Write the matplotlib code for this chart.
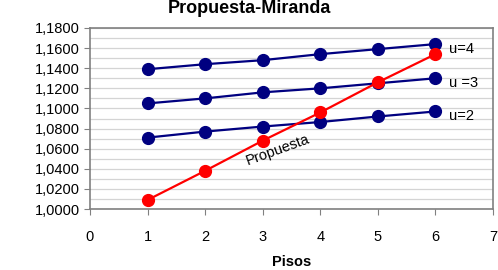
import matplotlib.pyplot as plt
from matplotlib.ticker import MultipleLocator, FuncFormatter

plt.rcParams['font.family'] = ['Liberation Sans', 'DejaVu Sans']

pisos = [1, 2, 3, 4, 5, 6]
u4 = [1.139, 1.144, 1.148, 1.154, 1.159, 1.164]
u3 = [1.105, 1.110, 1.116, 1.120, 1.125, 1.130]
u2 = [1.071, 1.077, 1.082, 1.0865, 1.092, 1.097]
propuesta = [1.009, 1.038, 1.068, 1.096, 1.126, 1.154]

series_labels = ['u=4', 'u =3', 'u=2']

fig = plt.figure(figsize=(4.98, 2.70), dpi=100)
ax = fig.add_axes([0.1807, 0.2259, 0.990 - 0.1807, 0.8963 - 0.2259])

navy = '#000080'
for vals in (u4, u3, u2):
    ax.plot(pisos, vals, color=navy, lw=1.6, marker='o', ms=8.5, zorder=3)
ax.plot(pisos, propuesta, color='#ff0000', lw=1.6, marker='o', ms=8.5, zorder=4)

# series labels at the right end
for lab, vals in zip(series_labels, (u4, u3, u2)):
    ax.text(6.24, vals[-1] - 0.005, lab, fontsize=10.5, va='center', ha='left')
ax.text(3.27, 1.0590, 'Propuesta', fontsize=10.5, rotation=20,
        ha='center', va='center')

ax.set_xlim(0, 7)
ax.set_ylim(1.0, 1.18)
ax.xaxis.set_major_locator(MultipleLocator(1))
ax.yaxis.set_major_locator(MultipleLocator(0.02))
ax.yaxis.set_minor_locator(MultipleLocator(0.01))
ax.yaxis.set_major_formatter(FuncFormatter(lambda v, p: f'{v:.4f}'.replace('.', ',')))

ax.grid(True, which='both', axis='y', color='#d4d4d4', lw=0.9)
ax.set_axisbelow(True)
for s in ax.spines.values():
    s.set_color('#808080')
    s.set_linewidth(1.2)
ax.tick_params(axis='both', which='major', colors='#808080', labelcolor='black',
               labelsize=10.5, length=4)
ax.tick_params(axis='y', which='minor', length=0)
ax.tick_params(axis='x', pad=11)

ax.set_xlabel('Pisos', fontsize=10.5, fontweight='bold', labelpad=8)
fig.suptitle('Propuesta-Miranda', x=0.5, y=1.0, fontsize=13, fontweight='bold')

plt.savefig('out.png', dpi=100)
